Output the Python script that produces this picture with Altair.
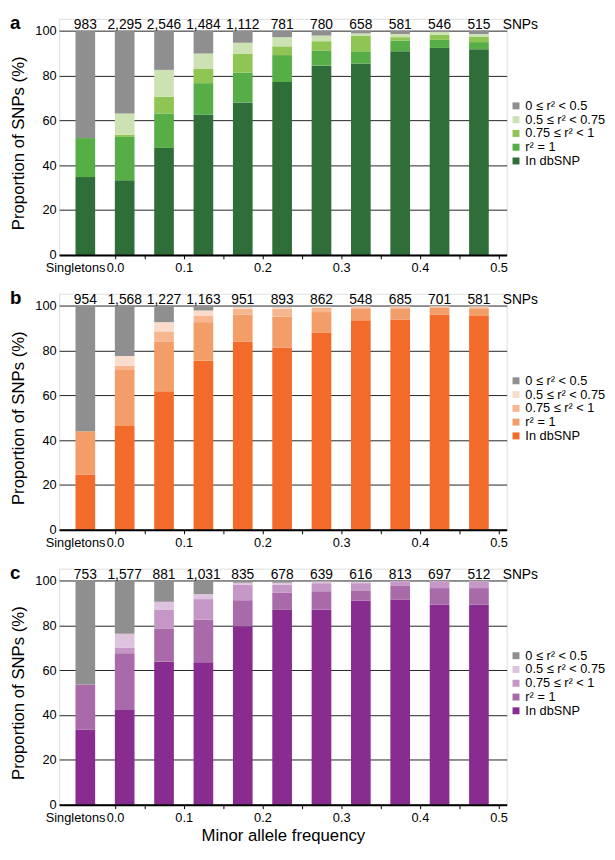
import altair as alt
import pandas as pd

# ---------------- data ----------------
bin_labels = ["Singletons", "0.00-0.05", "0.05-0.10", "0.10-0.15", "0.15-0.20", "0.20-0.25",
              "0.25-0.30", "0.30-0.35", "0.35-0.40", "0.40-0.45", "0.45-0.50"]
bin_mid = [-0.025, 0.025, 0.075, 0.125, 0.175, 0.225, 0.275, 0.325, 0.375, 0.425, 0.475]

classes = ["0 ≤ r² < 0.5", "0.5 ≤ r² < 0.75", "0.75 ≤ r² < 1", "r² = 1", "In dbSNP"]

# panel a
a_counts = ["983", "2,295", "2,546", "1,484", "1,112", "781", "780", "658", "581", "546", "515"]
a_db   = [34.7, 33.3, 47.7, 62.6, 68.0, 77.1, 84.4, 85.4, 90.8, 92.3, 91.7]
a_r1   = [17.4, 19.3, 15.4, 14.0, 13.3, 12.0, 6.8, 5.4, 4.8, 3.6, 3.2]
a_r75  = [0.0, 1.0, 7.4, 6.3, 8.5, 3.9, 4.1, 7.0, 1.5, 2.3, 2.5]
a_r5   = [0.0, 9.5, 12.0, 6.9, 4.8, 4.1, 2.5, 1.0, 1.4, 1.2, 1.1]
a_grey = [47.9, 36.9, 17.5, 10.2, 5.4, 2.9, 2.2, 1.2, 1.5, 0.6, 1.5]

# panel b
b_counts = ["954", "1,568", "1,227", "1,163", "951", "893", "862", "548", "685", "701", "581"]
b_db   = [24.7, 46.3, 61.8, 75.4, 83.8, 81.3, 87.8, 93.4, 93.8, 96.0, 95.3]
b_r1   = [19.3, 25.3, 22.0, 17.2, 12.1, 13.8, 9.3, 5.1, 4.7, 3.0, 3.2]
b_r75  = [0.0, 1.5, 4.7, 3.0, 2.6, 3.4, 1.9, 0.8, 0.8, 0.5, 0.8]
b_r5   = [0.0, 4.4, 4.1, 2.2, 0.8, 0.8, 0.6, 0.4, 0.4, 0.3, 0.4]
b_grey = [56.0, 22.5, 7.4, 2.2, 0.7, 0.7, 0.4, 0.3, 0.3, 0.2, 0.3]

# panel c
c_counts = ["753", "1,577", "881", "1,031", "835", "678", "639", "616", "813", "697", "512"]
c_db   = [33.6, 42.3, 63.8, 63.5, 79.6, 86.9, 87.1, 91.1, 91.5, 89.3, 89.3]
c_r1   = [20.0, 25.3, 14.6, 19.0, 11.6, 7.6, 8.1, 4.5, 6.3, 7.3, 7.3]
c_r75  = [0.0, 2.5, 8.5, 9.2, 6.9, 3.6, 3.6, 3.2, 1.8, 3.0, 3.0]
c_r5   = [0.0, 6.1, 3.6, 2.2, 0.9, 0.9, 0.8, 0.5, 0.2, 0.2, 0.2]
c_grey = [46.4, 23.8, 9.5, 6.1, 1.0, 1.0, 0.4, 0.7, 0.2, 0.2, 0.2]

green_colors  = ["#8f8f8f", "#cde2b3", "#8fc552", "#57ae47", "#2f6e38"]
orange_colors = ["#8f8f8f", "#f9dccb", "#f6b68e", "#f39e68", "#f26b2b"]
purple_colors = ["#8f8f8f", "#ddc3de", "#c597c6", "#a96aa9", "#892c8f"]

x_tick_values = [-0.038, 0.0128, 0.05, 0.1, 0.15, 0.2, 0.25, 0.3, 0.35, 0.4, 0.45, 0.5]

# ---------------- layout constants ----------------
W = 455
H_PLOT = 228            # height of the 0-100 range
HEADROOM = 12           # room above 100 for the count labels and panel letter
H = H_PLOT + HEADROOM
Y_MAX = 100 * H / H_PLOT
X_DOMAIN = [-0.052, 0.504]
FONT = "Liberation Sans"


def panel(letter, counts, db, r1, r75, r5, grey, colors, show_xtitle):
    series = {"In dbSNP": db, "r² = 1": r1, "0.75 ≤ r² < 1": r75,
              "0.5 ≤ r² < 0.75": r5, "0 ≤ r² < 0.5": grey}
    order = {"In dbSNP": 0, "r² = 1": 1, "0.75 ≤ r² < 1": 2, "0.5 ≤ r² < 0.75": 3, "0 ≤ r² < 0.5": 4}
    rows = []
    for cls, vals in series.items():
        for b, m, v in zip(bin_labels, bin_mid, vals):
            rows.append({"bin": b, "maf": m, "cls": cls, "pct": v, "ord": order[cls]})
    df = pd.DataFrame(rows)

    xaxis = alt.Axis(
        values=x_tick_values,
        labelExpr=("datum.value < 0 ? 'Singletons' : datum.value < 0.03 ? '0.0' : "
                   "(abs(datum.value*10 - round(datum.value*10)) < 0.001 ? format(datum.value, '.1f') : '')"),
        tickColor={"condition": {"test": "datum.value < 0", "value": "transparent"}, "value": "black"},
        tickSize=4, tickWidth=1,
        domainColor="black", domainWidth=2,
        labelFontSize=13, labelColor="black", labelPadding=3,
        labelFlush=5, labelOverlap=False, grid=False, zindex=1,
        titleFontSize=17, titleFontWeight="normal", titleColor="black", titlePadding=3,
    )
    xenc = alt.X("maf:Q", scale=alt.Scale(domain=X_DOMAIN, nice=False, zero=False),
                 axis=xaxis, title=("Minor allele frequency" if show_xtitle else None))

    yaxis = alt.Axis(
        values=[0, 20, 40, 60, 80, 100], grid=True, gridColor="#222222", gridWidth=1,
        domain=False, ticks=False, labelFontSize=13, labelColor="black", labelPadding=3,
        titleFontSize=17, titleFontWeight="normal", titleColor="black",
        titleX=-41.5, titleY=HEADROOM + H_PLOT / 2, titleAngle=270,
        titleBaseline="middle", titleAlign="center",
    )
    yscale = alt.Scale(domain=[0, Y_MAX], nice=False)

    bars = alt.Chart(df).mark_bar(size=20).encode(
        x=xenc,
        y=alt.Y("pct:Q", stack="zero", scale=yscale, axis=yaxis, title="Proportion of SNPs (%)"),
        color=alt.Color("cls:N", scale=alt.Scale(domain=classes, range=colors),
                        legend=alt.Legend(title=None, orient="none", legendX=458, legendY=82,
                                          symbolType="square", symbolSize=50, symbolStrokeWidth=0,
                                          labelFontSize=13, labelColor="black", labelOffset=3,
                                          rowPadding=-1.3, padding=0)),
        order=alt.Order("ord:Q"),
    )

    cdf = pd.DataFrame({"maf": bin_mid, "label": counts})
    count_text = alt.Chart(cdf).mark_text(baseline="middle", dy=-6, fontSize=14, color="black").encode(
        x=alt.X("maf:Q"), y=alt.datum(100), text="label:N")

    snps = alt.Chart(pd.DataFrame({"t": ["SNPs"]})).mark_text(
        align="left", baseline="middle", dx=1, dy=-6, fontSize=14, color="black").encode(
        x=alt.datum(X_DOMAIN[1]), y=alt.datum(100), text="t:N")

    let = alt.Chart(pd.DataFrame({"t": [letter]})).mark_text(
        align="left", baseline="middle", dy=-8, fontSize=19, fontWeight="bold", color="black").encode(
        x=alt.value(-50), y=alt.datum(100), text="t:N")

    return alt.layer(bars, count_text, snps, let).properties(width=W, height=H)


pa = panel("a", a_counts, a_db, a_r1, a_r75, a_r5, a_grey, green_colors, False)
pb = panel("b", b_counts, b_db, b_r1, b_r75, b_r5, b_grey, orange_colors, False)
pc = panel("c", c_counts, c_db, c_r1, c_r75, c_r5, c_grey, purple_colors, True)

chart = alt.vconcat(pa, pb, pc, spacing=12.5).resolve_scale(color="independent").properties(
    padding={"left": 0, "top": -2, "right": 0, "bottom": 0}
).configure_view(stroke=None).configure(font=FONT)

chart.save("out.html", embed_options={"renderer": "svg", "actions": False})
